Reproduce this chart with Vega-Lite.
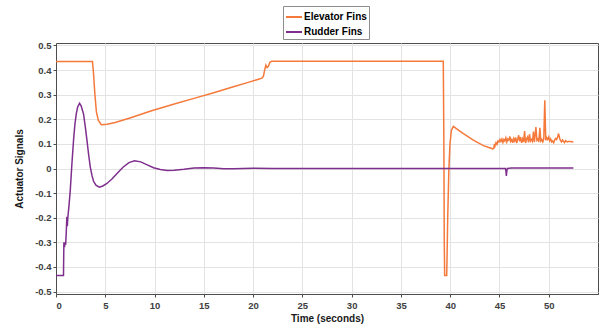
{
  "$schema": "https://vega.github.io/schema/vega-lite/v6.json",
  "width": 542,
  "height": 251,
  "padding": {"left": 56, "top": 43, "right": 6, "bottom": 33},
  "autosize": {"type": "none"},
  "background": "white",
  "config": {
    "view": {"stroke": "#4d4d4d", "strokeWidth": 1},
    "font": "Liberation Sans",
    "axis": {
      "labelFont": "Liberation Sans",
      "labelFontSize": 9.5,
      "labelFontWeight": "bold",
      "labelColor": "#404040",
      "titleFont": "Liberation Sans",
      "titleFontSize": 10,
      "titleFontWeight": "bold",
      "titleColor": "#1a1a1a",
      "gridColor": "#e3e3e3",
      "gridWidth": 1,
      "domainColor": "#4d4d4d",
      "tickColor": "#4d4d4d",
      "tickSize": 3
    }
  },
  "data": {
    "values": [
      {"t": 0, "v": 0.435, "s": "Elevator Fins"},
      {"t": 3.7, "v": 0.435, "s": "Elevator Fins"},
      {"t": 3.8, "v": 0.39, "s": "Elevator Fins"},
      {"t": 3.95, "v": 0.3, "s": "Elevator Fins"},
      {"t": 4.1, "v": 0.23, "s": "Elevator Fins"},
      {"t": 4.3, "v": 0.195, "s": "Elevator Fins"},
      {"t": 4.6, "v": 0.178, "s": "Elevator Fins"},
      {"t": 5.2, "v": 0.18, "s": "Elevator Fins"},
      {"t": 6, "v": 0.187, "s": "Elevator Fins"},
      {"t": 7.5, "v": 0.205, "s": "Elevator Fins"},
      {"t": 9.7, "v": 0.235, "s": "Elevator Fins"},
      {"t": 12, "v": 0.262, "s": "Elevator Fins"},
      {"t": 14, "v": 0.285, "s": "Elevator Fins"},
      {"t": 16, "v": 0.308, "s": "Elevator Fins"},
      {"t": 18, "v": 0.332, "s": "Elevator Fins"},
      {"t": 19.5, "v": 0.35, "s": "Elevator Fins"},
      {"t": 20.9, "v": 0.367, "s": "Elevator Fins"},
      {"t": 21.05, "v": 0.375, "s": "Elevator Fins"},
      {"t": 21.2, "v": 0.405, "s": "Elevator Fins"},
      {"t": 21.3, "v": 0.42, "s": "Elevator Fins"},
      {"t": 21.42, "v": 0.41, "s": "Elevator Fins"},
      {"t": 21.55, "v": 0.415, "s": "Elevator Fins"},
      {"t": 21.7, "v": 0.432, "s": "Elevator Fins"},
      {"t": 21.9, "v": 0.436, "s": "Elevator Fins"},
      {"t": 39.3, "v": 0.436, "s": "Elevator Fins"},
      {"t": 39.36, "v": 0.1, "s": "Elevator Fins"},
      {"t": 39.4, "v": -0.3, "s": "Elevator Fins"},
      {"t": 39.44, "v": -0.435, "s": "Elevator Fins"},
      {"t": 39.65, "v": -0.435, "s": "Elevator Fins"},
      {"t": 39.75, "v": -0.2, "s": "Elevator Fins"},
      {"t": 39.87, "v": 0.0, "s": "Elevator Fins"},
      {"t": 39.98, "v": 0.1, "s": "Elevator Fins"},
      {"t": 40.12, "v": 0.155, "s": "Elevator Fins"},
      {"t": 40.32, "v": 0.171, "s": "Elevator Fins"},
      {"t": 40.7, "v": 0.16, "s": "Elevator Fins"},
      {"t": 41.34, "v": 0.142, "s": "Elevator Fins"},
      {"t": 42.35, "v": 0.115, "s": "Elevator Fins"},
      {"t": 43.37, "v": 0.093, "s": "Elevator Fins"},
      {"t": 44.32, "v": 0.08, "s": "Elevator Fins"},
      {"t": 44.42, "v": 0.082, "s": "Elevator Fins"},
      {"t": 44.5, "v": 0.1, "s": "Elevator Fins"},
      {"t": 44.55, "v": 0.092, "s": "Elevator Fins"},
      {"t": 44.65, "v": 0.105, "s": "Elevator Fins"},
      {"t": 44.75, "v": 0.098, "s": "Elevator Fins"},
      {"t": 44.85, "v": 0.112, "s": "Elevator Fins"},
      {"t": 44.95, "v": 0.108, "s": "Elevator Fins"},
      {"t": 45.05, "v": 0.118, "s": "Elevator Fins"},
      {"t": 45.15, "v": 0.11, "s": "Elevator Fins"},
      {"t": 45.25, "v": 0.12, "s": "Elevator Fins"},
      {"t": 45.35, "v": 0.106, "s": "Elevator Fins"},
      {"t": 45.45, "v": 0.118, "s": "Elevator Fins"},
      {"t": 45.55, "v": 0.112, "s": "Elevator Fins"},
      {"t": 45.65, "v": 0.125, "s": "Elevator Fins"},
      {"t": 45.75, "v": 0.108, "s": "Elevator Fins"},
      {"t": 45.85, "v": 0.12, "s": "Elevator Fins"},
      {"t": 45.95, "v": 0.115, "s": "Elevator Fins"},
      {"t": 46.05, "v": 0.13, "s": "Elevator Fins"},
      {"t": 46.15, "v": 0.11, "s": "Elevator Fins"},
      {"t": 46.25, "v": 0.118, "s": "Elevator Fins"},
      {"t": 46.35, "v": 0.104, "s": "Elevator Fins"},
      {"t": 46.45, "v": 0.122, "s": "Elevator Fins"},
      {"t": 46.55, "v": 0.112, "s": "Elevator Fins"},
      {"t": 46.65, "v": 0.126, "s": "Elevator Fins"},
      {"t": 46.75, "v": 0.103, "s": "Elevator Fins"},
      {"t": 46.85, "v": 0.118, "s": "Elevator Fins"},
      {"t": 46.95, "v": 0.135, "s": "Elevator Fins"},
      {"t": 47.05, "v": 0.11, "s": "Elevator Fins"},
      {"t": 47.15, "v": 0.128, "s": "Elevator Fins"},
      {"t": 47.25, "v": 0.104, "s": "Elevator Fins"},
      {"t": 47.35, "v": 0.12, "s": "Elevator Fins"},
      {"t": 47.45, "v": 0.108, "s": "Elevator Fins"},
      {"t": 47.55, "v": 0.152, "s": "Elevator Fins"},
      {"t": 47.65, "v": 0.103, "s": "Elevator Fins"},
      {"t": 47.75, "v": 0.12, "s": "Elevator Fins"},
      {"t": 47.85, "v": 0.128, "s": "Elevator Fins"},
      {"t": 47.95, "v": 0.106, "s": "Elevator Fins"},
      {"t": 48.05, "v": 0.14, "s": "Elevator Fins"},
      {"t": 48.15, "v": 0.112, "s": "Elevator Fins"},
      {"t": 48.25, "v": 0.118, "s": "Elevator Fins"},
      {"t": 48.35, "v": 0.11, "s": "Elevator Fins"},
      {"t": 48.45, "v": 0.15, "s": "Elevator Fins"},
      {"t": 48.55, "v": 0.108, "s": "Elevator Fins"},
      {"t": 48.7, "v": 0.168, "s": "Elevator Fins"},
      {"t": 48.8, "v": 0.115, "s": "Elevator Fins"},
      {"t": 48.9, "v": 0.12, "s": "Elevator Fins"},
      {"t": 49.0, "v": 0.108, "s": "Elevator Fins"},
      {"t": 49.1, "v": 0.165, "s": "Elevator Fins"},
      {"t": 49.2, "v": 0.112, "s": "Elevator Fins"},
      {"t": 49.3, "v": 0.118, "s": "Elevator Fins"},
      {"t": 49.4, "v": 0.108, "s": "Elevator Fins"},
      {"t": 49.5, "v": 0.12, "s": "Elevator Fins"},
      {"t": 49.6, "v": 0.277, "s": "Elevator Fins"},
      {"t": 49.7, "v": 0.115, "s": "Elevator Fins"},
      {"t": 49.8, "v": 0.125, "s": "Elevator Fins"},
      {"t": 49.9, "v": 0.118, "s": "Elevator Fins"},
      {"t": 50.0, "v": 0.128, "s": "Elevator Fins"},
      {"t": 50.1, "v": 0.112, "s": "Elevator Fins"},
      {"t": 50.2, "v": 0.12, "s": "Elevator Fins"},
      {"t": 50.3, "v": 0.108, "s": "Elevator Fins"},
      {"t": 50.4, "v": 0.112, "s": "Elevator Fins"},
      {"t": 50.5, "v": 0.105, "s": "Elevator Fins"},
      {"t": 50.6, "v": 0.115, "s": "Elevator Fins"},
      {"t": 50.7, "v": 0.122, "s": "Elevator Fins"},
      {"t": 50.8, "v": 0.118, "s": "Elevator Fins"},
      {"t": 50.9, "v": 0.128, "s": "Elevator Fins"},
      {"t": 51.0, "v": 0.142, "s": "Elevator Fins"},
      {"t": 51.1, "v": 0.124, "s": "Elevator Fins"},
      {"t": 51.2, "v": 0.113, "s": "Elevator Fins"},
      {"t": 51.3, "v": 0.108, "s": "Elevator Fins"},
      {"t": 51.4, "v": 0.116, "s": "Elevator Fins"},
      {"t": 51.5, "v": 0.11, "s": "Elevator Fins"},
      {"t": 51.6, "v": 0.105, "s": "Elevator Fins"},
      {"t": 51.7, "v": 0.113, "s": "Elevator Fins"},
      {"t": 51.8, "v": 0.11, "s": "Elevator Fins"},
      {"t": 51.9, "v": 0.108, "s": "Elevator Fins"},
      {"t": 52.0, "v": 0.11, "s": "Elevator Fins"},
      {"t": 52.2, "v": 0.11, "s": "Elevator Fins"},
      {"t": 52.5, "v": 0.108, "s": "Elevator Fins"},

      {"t": 0, "v": -0.435, "s": "Rudder Fins"},
      {"t": 0.76, "v": -0.435, "s": "Rudder Fins"},
      {"t": 0.8, "v": -0.3, "s": "Rudder Fins"},
      {"t": 0.86, "v": -0.32, "s": "Rudder Fins"},
      {"t": 0.92, "v": -0.3, "s": "Rudder Fins"},
      {"t": 0.98, "v": -0.31, "s": "Rudder Fins"},
      {"t": 1.05, "v": -0.25, "s": "Rudder Fins"},
      {"t": 1.1, "v": -0.196, "s": "Rudder Fins"},
      {"t": 1.15, "v": -0.235, "s": "Rudder Fins"},
      {"t": 1.2, "v": -0.2, "s": "Rudder Fins"},
      {"t": 1.32, "v": -0.15, "s": "Rudder Fins"},
      {"t": 1.45, "v": -0.088, "s": "Rudder Fins"},
      {"t": 1.6, "v": 0.01, "s": "Rudder Fins"},
      {"t": 1.78, "v": 0.115, "s": "Rudder Fins"},
      {"t": 1.92, "v": 0.18, "s": "Rudder Fins"},
      {"t": 2.06, "v": 0.223, "s": "Rudder Fins"},
      {"t": 2.2, "v": 0.25, "s": "Rudder Fins"},
      {"t": 2.39, "v": 0.265, "s": "Rudder Fins"},
      {"t": 2.55, "v": 0.255, "s": "Rudder Fins"},
      {"t": 2.7, "v": 0.235, "s": "Rudder Fins"},
      {"t": 2.8, "v": 0.22, "s": "Rudder Fins"},
      {"t": 2.97, "v": 0.17, "s": "Rudder Fins"},
      {"t": 3.14, "v": 0.115, "s": "Rudder Fins"},
      {"t": 3.3, "v": 0.06, "s": "Rudder Fins"},
      {"t": 3.48, "v": 0.006, "s": "Rudder Fins"},
      {"t": 3.65, "v": -0.028, "s": "Rudder Fins"},
      {"t": 3.81, "v": -0.052, "s": "Rudder Fins"},
      {"t": 4.05, "v": -0.068, "s": "Rudder Fins"},
      {"t": 4.39, "v": -0.076, "s": "Rudder Fins"},
      {"t": 4.75, "v": -0.071, "s": "Rudder Fins"},
      {"t": 5.17, "v": -0.061, "s": "Rudder Fins"},
      {"t": 5.7, "v": -0.042, "s": "Rudder Fins"},
      {"t": 6.19, "v": -0.02, "s": "Rudder Fins"},
      {"t": 6.8, "v": 0.005, "s": "Rudder Fins"},
      {"t": 7.4, "v": 0.024, "s": "Rudder Fins"},
      {"t": 7.97, "v": 0.031, "s": "Rudder Fins"},
      {"t": 8.6, "v": 0.027, "s": "Rudder Fins"},
      {"t": 9.2, "v": 0.016, "s": "Rudder Fins"},
      {"t": 9.9, "v": 0.003, "s": "Rudder Fins"},
      {"t": 10.58, "v": -0.004, "s": "Rudder Fins"},
      {"t": 11.3, "v": -0.008, "s": "Rudder Fins"},
      {"t": 12, "v": -0.007, "s": "Rudder Fins"},
      {"t": 13, "v": -0.003, "s": "Rudder Fins"},
      {"t": 14, "v": 0.002, "s": "Rudder Fins"},
      {"t": 15, "v": 0.003, "s": "Rudder Fins"},
      {"t": 16, "v": 0.002, "s": "Rudder Fins"},
      {"t": 17, "v": -0.001, "s": "Rudder Fins"},
      {"t": 18, "v": -0.001, "s": "Rudder Fins"},
      {"t": 19, "v": 0.0, "s": "Rudder Fins"},
      {"t": 20, "v": 0.001, "s": "Rudder Fins"},
      {"t": 22, "v": 0.0, "s": "Rudder Fins"},
      {"t": 45.6, "v": 0.0, "s": "Rudder Fins"},
      {"t": 45.65, "v": -0.008, "s": "Rudder Fins"},
      {"t": 45.7, "v": -0.03, "s": "Rudder Fins"},
      {"t": 45.75, "v": -0.01, "s": "Rudder Fins"},
      {"t": 45.8, "v": 0.0, "s": "Rudder Fins"},
      {"t": 46.2, "v": 0.002, "s": "Rudder Fins"},
      {"t": 52.5, "v": 0.002, "s": "Rudder Fins"}
    ]
  },
  "mark": {"type": "line", "strokeWidth": 1.5, "clip": true},
  "encoding": {
    "x": {
      "field": "t",
      "type": "quantitative",
      "scale": {"domain": [0, 55], "nice": false, "zero": false},
      "axis": {
        "values": [0, 5, 10, 15, 20, 25, 30, 35, 40, 45, 50],
        "title": "Time (seconds)",
        "titlePadding": 4,
        "labelPadding": 3
      }
    },
    "y": {
      "field": "v",
      "type": "quantitative",
      "scale": {"domain": [-0.51, 0.51], "nice": false, "zero": false},
      "axis": {
        "values": [-0.5, -0.4, -0.3, -0.2, -0.1, 0, 0.1, 0.2, 0.3, 0.4, 0.5],
        "labelExpr": "'' + datum.value",
        "title": "Actuator Signals",
        "titlePadding": 10
      }
    },
    "color": {
      "field": "s",
      "type": "nominal",
      "scale": {"domain": ["Elevator Fins", "Rudder Fins"], "range": ["#F4793B", "#7E2F8E"]},
      "legend": {
        "title": null,
        "orient": "none",
        "legendX": 227,
        "legendY": -37,
        "direction": "vertical",
        "symbolType": "stroke",
        "symbolSize": 256,
        "symbolStrokeWidth": 2,
        "labelFont": "Liberation Sans",
        "labelFontSize": 10,
        "labelFontWeight": "bold",
        "labelColor": "#000000",
        "labelOffset": 1,
        "rowPadding": 1,
        "padding": 2,
        "strokeColor": "#8c8c8c",
        "fillColor": "white"
      }
    }
  }
}
